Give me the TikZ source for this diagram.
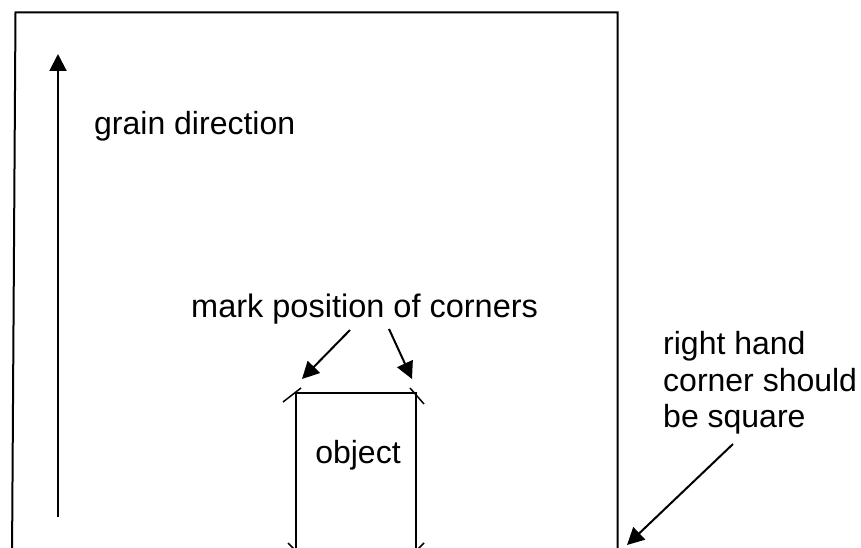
\documentclass[tikz,border=0pt]{standalone}
\usepackage{fontspec}
\setmainfont{Liberation Sans}
\usetikzlibrary{arrows.meta}
\begin{document}
\begin{tikzpicture}[x=1pt,y=-1pt,
  ln/.style={line width=2pt, line cap=butt},
  arr/.style={ln, -{Triangle[length=17pt,width=17pt]}},
  lbl/.style={inner sep=0pt, anchor=base west, font=\fontsize{32}{37}\selectfont},
  tick/.style={line width=1.5pt}]
\useasboundingbox (0,0) rectangle (861,548);
\fill[white] (0,0) rectangle (861,548);
% sheet
\coordinate (sbl) at (12,560);
\coordinate (stl) at (15.5,12.5);
\coordinate (str) at (617.5,12.5);
\coordinate (sbr) at (617.5,560);
\draw[ln, line join=miter] (sbl) -- (stl) -- (str) -- (sbr);
% grain arrow
\coordinate (g0) at (58,517);
\coordinate (g1) at (58,54);
\draw[arr] (g0) -- (g1);
\node[lbl] (grain) at (94,135) {grain direction};
% object
\coordinate (obl) at (296,560);
\coordinate (otl) at (296,393);
\coordinate (otr) at (416,393);
\coordinate (obr) at (416,560);
\draw[ln, line join=miter] (obl) -- (otl) -- (otr) -- (obr);
\node[inner sep=0pt, anchor=base, font=\fontsize{32}{37}\selectfont] (obj) at (358,463) {object};
% corner marks
\coordinate (tl1) at (283,402); \coordinate (tl2) at (301,388);
\coordinate (tr1) at (410,388); \coordinate (tr2) at (424,404);
\coordinate (bl1) at (288,543); \coordinate (bl2) at (304,559);
\coordinate (br1) at (424,543); \coordinate (br2) at (408,559);
\draw[tick] (tl1) -- (tl2);
\draw[tick] (tr1) -- (tr2);
\draw[tick] (bl1) -- (bl2);
\draw[tick] (br1) -- (br2);
% mark label
\node[lbl, font=\fontsize{32.5}{37}\selectfont] (mark) at (191,317) {mark position of corners};
\coordinate (m1) at (350,330);
\coordinate (m1t) at (302,379);
\coordinate (m2) at (389,329);
\coordinate (m2t) at (412,379);
\draw[arr] (m1) -- (m1t);
\draw[arr] (m2) -- (m2t);
% right text
\node[lbl] (rt1) at (663,354) {right hand};
\node[lbl] (rt2) at (663,391) {corner should};
\node[lbl] (rt3) at (663,427) {be square};
\coordinate (r1) at (733,444);
\coordinate (r2) at (627,545);
\draw[arr] (r1) -- (r2);
\end{tikzpicture}
\end{document}
